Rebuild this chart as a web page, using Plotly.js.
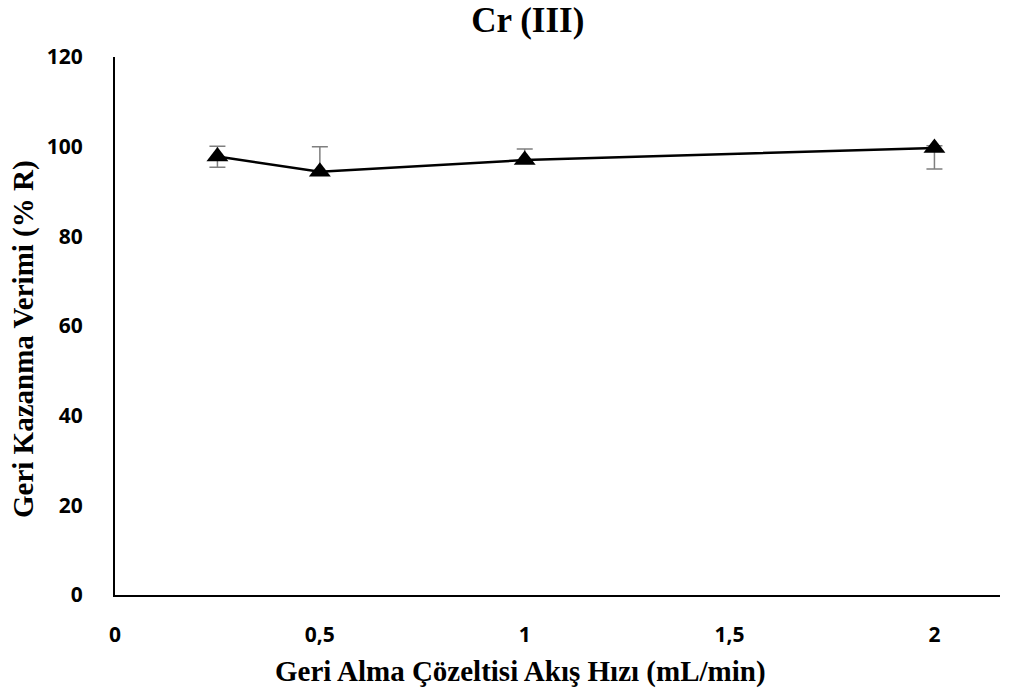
<!DOCTYPE html>
<html><head><meta charset="utf-8">
<script src="https://cdn.plot.ly/plotly-3.0.1.min.js"></script>
<style>body{margin:0;background:#fff}</style></head>
<body><div id="chart" style="width:1015px;height:693px"></div>
<script>
const flowRate = [0.25, 0.5, 1, 2];
const recovery = [97.8, 94.4, 97.0, 99.7];
const errPlus = [2.3, 5.6, 2.5, 0.5];
const errMinus = [2.4, 0.5, 0.5, 4.7];
const titleText = 'Cr (III)';
const xTitle = 'Geri Alma Çözeltisi Akış Hızı (mL/min)';
const yTitle = 'Geri Kazanma Verimi (% R)';

const serif = {family: 'Liberation Serif', size: 29, color: '#000', weight: 'bold'};
const trace = {
  x: flowRate, y: recovery, type: 'scatter', mode: 'lines+markers',
  line: {color: '#000', width: 2.5},
  marker: {symbol: 'triangle-up', size: 19, color: '#000'},
  error_y: {type: 'data', symmetric: false, array: errPlus, arrayminus: errMinus,
            color: '#7f7f7f', thickness: 1.5, width: 8},
  showlegend: false
};
const layout = {
  width: 1015, height: 693,
  margin: {l: 115, r: 15, t: 57, b: 98},
  paper_bgcolor: '#fff', plot_bgcolor: '#fff',
  separators: ',.',
  title: {text: titleText, x: 0.52, xanchor: 'center', y: 0.971, yanchor: 'middle',
          font: {family: 'Liberation Serif', size: 35, color: '#000', weight: 'bold'}},
  xaxis: {range: [0, 2.16], dtick: 0.5, tick0: 0, showgrid: false, zeroline: false,
          showline: true, linecolor: '#000', linewidth: 2, ticks: '', ticklabelstandoff: 20,
          tickfont: {family: 'Open Sans', size: 21, color: '#000', weight: 'bold'}},
  yaxis: {range: [0, 120], dtick: 20, showgrid: false, zeroline: false,
          showline: true, linecolor: '#000', linewidth: 2, ticks: '', ticklabelstandoff: 26,
          tickfont: {family: 'Open Sans', size: 21, color: '#000', weight: 'bold'}},
  annotations: [
    {text: xTitle, xref: 'paper', yref: 'paper', x: (520 - 115) / 885, y: (595 - 671) / 538,
     xanchor: 'center', yanchor: 'middle', showarrow: false, font: serif},
    {text: yTitle, xref: 'paper', yref: 'paper', x: (23 - 115) / 885, y: (595 - 339) / 538,
     xanchor: 'center', yanchor: 'middle', textangle: -90, showarrow: false, font: serif}
  ]
};
Plotly.newPlot('chart', [trace], layout, {displayModeBar: false});
</script></body></html>
